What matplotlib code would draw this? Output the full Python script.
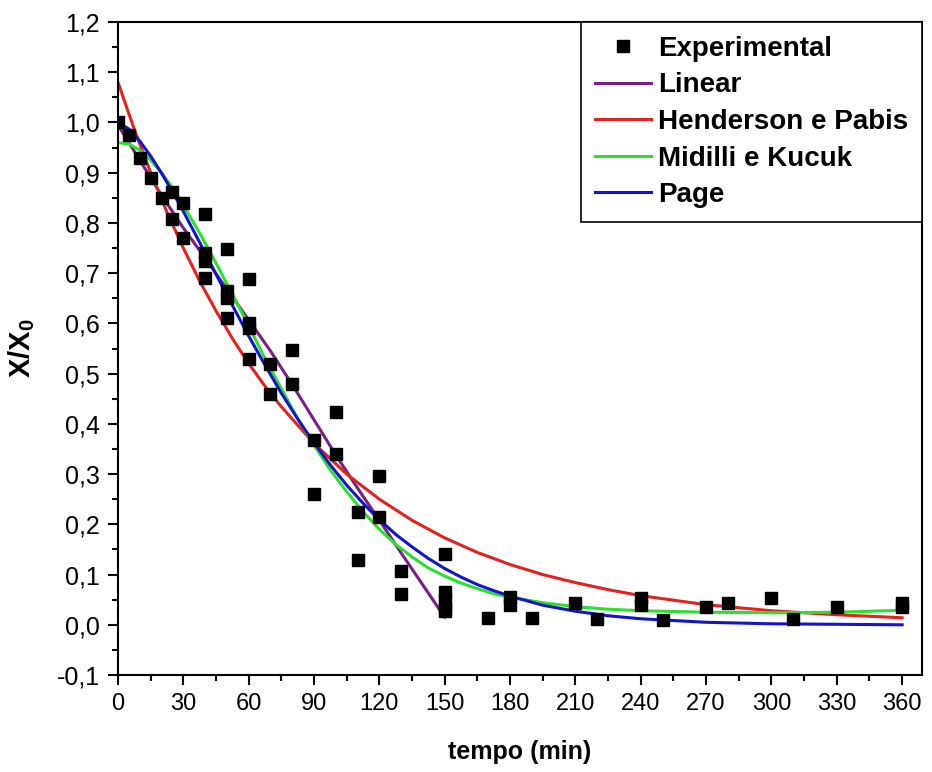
import matplotlib.pyplot as plt
from matplotlib.ticker import MultipleLocator, FuncFormatter

plt.rcParams['font.family'] = ['Liberation Sans', 'DejaVu Sans']
plt.rcParams['mathtext.fontset'] = 'custom'
plt.rcParams['mathtext.rm'] = 'Liberation Sans'
plt.rcParams['mathtext.bf'] = 'Liberation Sans:bold'

# Experimental points (time in min, X/X0)
t_exp = [0, 5, 10, 15, 20, 25, 25, 30, 30, 40, 40, 40, 40, 50, 50, 50, 50,
         60, 60, 60, 60, 70, 70, 80, 80, 90, 90, 100, 100, 110, 110, 120, 120,
         130, 130, 150, 150, 150, 150, 150, 170, 180, 180, 190, 210, 220,
         240, 240, 250, 270, 280, 300, 310, 330, 360, 360]
x_exp = [1.0, 0.975, 0.93, 0.89, 0.85, 0.862, 0.808, 0.84, 0.77, 0.817, 0.74,
         0.724, 0.69, 0.748, 0.665, 0.651, 0.611, 0.688, 0.601, 0.59, 0.53,
         0.52, 0.46, 0.548, 0.48, 0.367, 0.26, 0.423, 0.341, 0.224, 0.129,
         0.297, 0.215, 0.108, 0.062, 0.141, 0.066, 0.05, 0.034, 0.027, 0.013,
         0.056, 0.04, 0.013, 0.043, 0.012, 0.053, 0.04, 0.01, 0.036, 0.043,
         0.053, 0.012, 0.036, 0.043, 0.035]

# Linear model
t_lin = [0, 10, 20, 30, 40, 50, 60, 70, 80, 90, 100, 110, 120, 130, 140, 150]
x_lin = [0.995, 0.925, 0.855, 0.79, 0.73, 0.668, 0.607, 0.545, 0.478, 0.408,
         0.338, 0.272, 0.208, 0.143, 0.079, 0.015]

# Henderson e Pabis
t_hp = [0, 7.5, 15, 22.5, 30, 37.5, 45, 52.5, 60, 67.5, 75, 90, 105, 120,
        135, 150, 165, 180, 195, 210, 225, 240, 270, 300, 330, 360]
x_hp = [1.08, 0.986, 0.90, 0.821, 0.75, 0.684, 0.625, 0.570, 0.52, 0.475,
        0.434, 0.361, 0.30, 0.25, 0.208, 0.173, 0.144, 0.12, 0.10, 0.084,
        0.07, 0.058, 0.04, 0.028, 0.02, 0.014]

# Midilli e Kucuk and Page share the same time grid
t_fit = [0, 5, 10, 15, 20, 25, 30, 37.5, 45, 52.5, 60, 67.5, 75, 82.5, 90,
         97.5, 105, 112.5, 120, 127.5, 135, 142.5, 150, 157.5, 165, 172.5,
         180, 195, 210, 225, 240, 270, 300, 330, 360]
x_mk = [0.96, 0.957, 0.945, 0.925, 0.90, 0.87, 0.835, 0.78, 0.72, 0.658,
        0.595, 0.53, 0.47, 0.41, 0.358, 0.308, 0.265, 0.225, 0.19, 0.16,
        0.135, 0.113, 0.097, 0.083, 0.072, 0.062, 0.055, 0.044, 0.036,
        0.031, 0.028, 0.025, 0.024, 0.025, 0.029]
x_page = [1.0, 0.987, 0.963, 0.933, 0.899, 0.862, 0.823, 0.761, 0.698, 0.636,
          0.575, 0.517, 0.461, 0.410, 0.362, 0.318, 0.278, 0.242, 0.209,
          0.180, 0.155, 0.132, 0.112, 0.095, 0.080, 0.068, 0.057, 0.039,
          0.027, 0.018, 0.012, 0.005, 0.002, 0.001, 0.0]

fig = plt.figure(figsize=(9.32, 7.72), dpi=100)
ax = fig.add_axes([0.1266, 0.1256, 0.8624, 0.8459])

ax.plot(t_exp, x_exp, 's', color='black', markersize=8, label='Experimental', zorder=3)
ax.plot(t_lin, x_lin, color='#7a1f86', linewidth=2.2, label='Linear')
ax.plot(t_hp, x_hp, color='#e0231f', linewidth=2.2, label='Henderson e Pabis')
ax.plot(t_fit, x_mk, color='#2de02d', linewidth=2.2, label='Midilli e Kucuk')
ax.plot(t_fit, x_page, color='#1414c8', linewidth=2.2, label='Page')

ax.set_xlim(0, 369)
ax.set_ylim(-0.1, 1.2)
ax.xaxis.set_major_locator(MultipleLocator(30))
ax.xaxis.set_minor_locator(MultipleLocator(15))
ax.yaxis.set_major_locator(MultipleLocator(0.1))
ax.yaxis.set_minor_locator(MultipleLocator(0.05))
ax.yaxis.set_major_formatter(FuncFormatter(lambda v, p: f'{v:.1f}'.replace('.', ',').replace('-0,0', '0,0')))

for s in ax.spines.values():
    s.set_linewidth(1.5)
ax.tick_params(which='both', direction='out', width=1.5, top=False, right=False)
ax.tick_params(which='major', length=7, pad=6)
ax.tick_params(which='minor', length=4)
ax.tick_params(axis='x', labelsize=17)
ax.tick_params(axis='y', labelsize=18)

ax.set_xlabel('tempo (min)', fontsize=18, fontweight='bold', labelpad=18)
ax.set_ylabel(r'$\mathbf{X/X_0}$', fontsize=21, labelpad=14)

leg = ax.legend(loc='upper right', bbox_to_anchor=(1, 1), borderaxespad=0,
                fancybox=False, framealpha=1, edgecolor='black',
                prop={'size': 20, 'weight': 'bold'}, labelspacing=0.38,
                handlelength=2.0, handletextpad=0.25, borderpad=0.5)
leg.get_frame().set_linewidth(1.2)

fig.savefig('out.png', dpi=100)
